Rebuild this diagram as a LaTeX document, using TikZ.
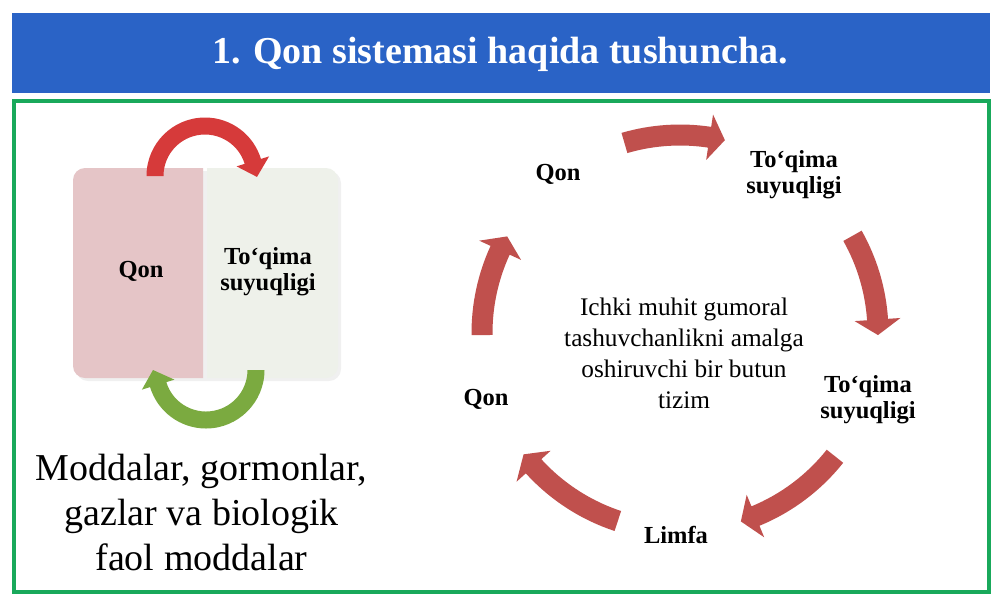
\documentclass[tikz,border=0pt]{standalone}
\usepackage{fontspec}
\setmainfont{Liberation Serif}
\usetikzlibrary{calc}
\definecolor{titleblue}{HTML}{2A63C6}
\definecolor{framegreen}{HTML}{19A95B}
\definecolor{cyclered}{HTML}{C0504D}
\definecolor{arcred}{HTML}{D63A3A}
\definecolor{arcgreen}{HTML}{7BAA40}
\definecolor{boxpink}{HTML}{E5C5C7}
\definecolor{boxgreen}{HTML}{EEF1EA}
\newcommand\cycarrow[2]{%
  \fill[cyclered] ($(C)+(#1:208.5pt)$)
    arc[start angle=#1, end angle=#2+4.5, radius=208.5pt]
    -- ($(C)+(#2+4.5:221pt)$) -- ($(C)+(#2:198pt)$)
    -- ($(C)+(#2+4.5:175pt)$) -- ($(C)+(#2+4.5:187.5pt)$)
    arc[start angle=#2+4.5, end angle=#1, radius=187.5pt] -- cycle;}
\begin{document}
\begin{tikzpicture}[x=1pt,y=-1pt,
  lbl/.style={font=\bfseries\fontsize{24.5}{26}\selectfont, align=center, anchor=base, inner sep=0pt},
  body/.style={font=\fontsize{25.3}{30.7}\selectfont, align=center, anchor=base, inner sep=0pt},
  big/.style={font=\fontsize{38}{45}\selectfont, align=center, anchor=base, inner sep=0pt}]
\useasboundingbox (0,0) rectangle (1000,606);
\fill[white] (0,0) rectangle (1000,606);
% title bar
\fill[titleblue] (12,13) rectangle (990,93);
\node[anchor=base, text=white, inner sep=0pt, font=\bfseries\fontsize{38}{45}\selectfont] (title) at (500,63) {1. Qon sistemasi haqida tushuncha.};
% frame
\draw[framegreen, line width=4pt] (14,101) rectangle (989,592);
% left boxes with faint shadow
\fill[black, opacity=0.06] (206,171) -- (88,171) arc[start angle=90, end angle=180, radius=12pt] -- (76,369) arc[start angle=180, end angle=270, radius=12pt] -- (329,381) arc[start angle=-90, end angle=0, radius=12pt] -- (341,183) arc[start angle=0, end angle=90, radius=12pt] -- cycle;
\fill[boxpink] (203,168) -- (85,168) arc[start angle=90, end angle=180, radius=12pt] -- (73,366) arc[start angle=180, end angle=270, radius=12pt] -- (203,378) -- cycle;
\fill[boxgreen] (207,168) -- (326,168) arc[start angle=90, end angle=0, radius=12pt] -- (338,366) arc[start angle=0, end angle=-90, radius=12pt] -- (207,378) -- cycle;
\node[lbl] (qonbox) at (141,277) {Qon};
\node[lbl] (tqbox) at (268,290) {To‘qima\\suyuqligi};
% red arc (top)
\coordinate (R) at (205,176);
\fill[arcred] ($(R)+(180:58.5pt)$) arc[start angle=180, end angle=17, radius=58.5pt]
  -- ($(R)+(17:67pt)$) -- ($(R)+(-1:52pt)$) -- ($(R)+(17:33pt)$) -- ($(R)+(17:41.5pt)$)
  arc[start angle=17, end angle=180, radius=41.5pt] -- cycle;
% green arc (bottom)
\coordinate (G) at (206,370);
\fill[arcgreen] ($(G)+(0:58.5pt)$) arc[start angle=0, end angle=-163, radius=58.5pt]
  -- ($(G)+(-163:67pt)$) -- ($(G)+(180:53pt)$) -- ($(G)+(-163:33pt)$) -- ($(G)+(-163:41.5pt)$)
  arc[start angle=-163, end angle=0, radius=41.5pt] -- cycle;
% bottom-left text
\node[big] (subst) at (201.5,570) {Moddalar, gormonlar,\\gazlar va biologik\\faol moddalar};
% cycle
\coordinate (C) at (680,333);
\cycarrow{106.3}{76.9}
\cycarrow{29.4}{-0.6}
\cycarrow{-38.5}{-72.1}
\cycarrow{-108.3}{-142.2}
\cycarrow{180.6}{150.8}
\node[lbl] (qon1) at (558,180) {Qon};
\node[lbl] (tq1) at (794,193) {To‘qima\\suyuqligi};
\node[lbl] (tq2) at (868,418) {To‘qima\\suyuqligi};
\node[lbl] (limfa) at (676,543) {Limfa};
\node[lbl] (qon2) at (486,405) {Qon};
\node[body] (centre) at (684,408) {Ichki muhit gumoral\\tashuvchanlikni amalga\\oshiruvchi bir butun\\tizim};
\end{tikzpicture}
\end{document}
